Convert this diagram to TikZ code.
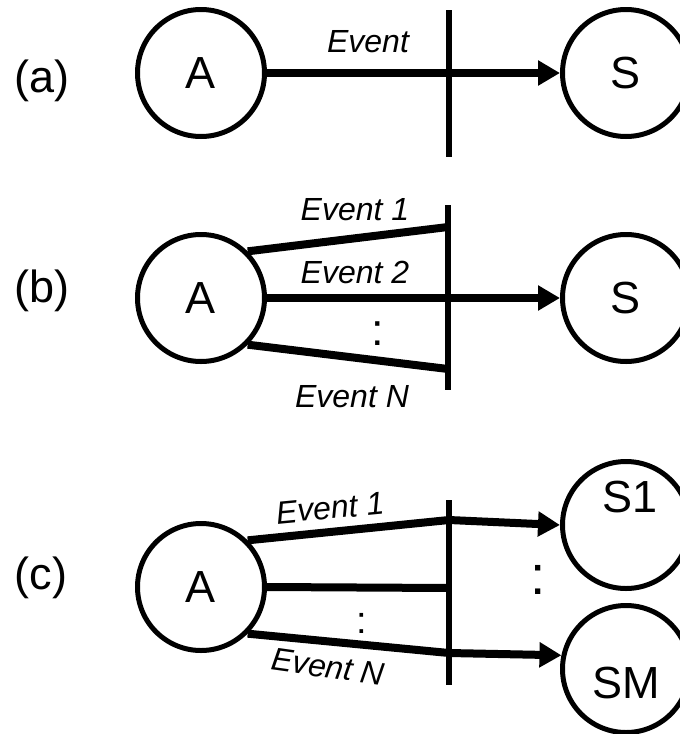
\documentclass[tikz,border=0pt]{standalone}
\usepackage{fontspec}
\setmainfont{Liberation Sans}
\usetikzlibrary{arrows.meta}

\begin{document}
\begin{tikzpicture}[x=1pt,y=-1pt,
  state/.style={circle, draw, line width=5pt, minimum size=127pt, inner sep=0pt,
                font=\fontsize{45}{54}\selectfont},
  big/.style={font=\fontsize{45}{54}\selectfont, inner sep=0pt, anchor=base},
  ev/.style={font=\fontsize{32}{38}\selectfont\itshape, inner sep=0pt, anchor=base},
  conn/.style={line width=8pt},
  flow/.style={conn, -{Triangle[length=22pt,width=24pt]}},
  barline/.style={line width=6.5pt},
]
\useasboundingbox (0,0) rectangle (680,734);

% ---------- (a) single event ----------
\node[big] (la) at (42,92) {(a)};
\node[state] (Aa) at (201,73) {A};
\node[state] (Sa) at (626,73) {S};
\coordinate (bat) at (449,10);
\coordinate (bab) at (449,157);
\draw[barline] (bat) -- (bab);
\draw[flow] (Aa.east) -- (Sa.west);
\node[ev] (eva) at (368,52) {Event};

% ---------- (b) several events, one sink ----------
\node[big] (lb) at (42,302) {(b)};
\node[state] (Ab) at (201,298) {A};
\node[state] (Sb) at (626,298) {S};
\coordinate (bbt) at (448,205);
\coordinate (bbb) at (448,390);
\coordinate (bb1) at (448,227);
\coordinate (bbn) at (448,369);
\draw[barline] (bbt) -- (bbb);
\draw[conn] (Ab.45) -- (bb1);
\draw[conn] (Ab.-45) -- (bbn);
\draw[flow] (Ab.east) -- (Sb.west);
\node[ev] (evb1) at (355,220) {Event 1};
\node[ev] (evb2) at (355,283) {Event 2};
\node[big] (dotb) at (378,345) {:};
\node[ev] (evbn) at (352,407) {Event N};

% ---------- (c) several events, several sinks ----------
\node[big] (lc) at (41,589) {(c)};
\node[state] (Ac) at (201,587) {A};
\node[state] (S1) at (626,525) {};
\node[state] (SM) at (626,669) {};
\node[big, anchor=center] (S1t) at (630,497) {S1};
\node[big, anchor=center] (SMt) at (626,683) {SM};
\coordinate (bct) at (449,500);
\coordinate (bcb) at (449,685);
\coordinate (bc1) at (449,520);
\coordinate (bc2) at (449,588);
\coordinate (bcn) at (449,653);
\draw[barline] (bct) -- (bcb);
\draw[flow] (Ac.45) -- (bc1) -- (S1.west);
\draw[conn] (Ac.east) -- (bc2);
\draw[flow] (Ac.-45) -- (bcn) -- (SM.168);
\node[ev, anchor=center, rotate=5.5] (evc1) at (330,508) {Event 1};
\node[ev, anchor=center, rotate=-8] (evcn) at (328,667) {Event N};
\node[big, font=\fontsize{38}{46}\selectfont] (dotc) at (362,633) {:};
\node[big, font=\fontsize{55}{66}\selectfont] (dots) at (538,594) {:};
\end{tikzpicture}
\end{document}
